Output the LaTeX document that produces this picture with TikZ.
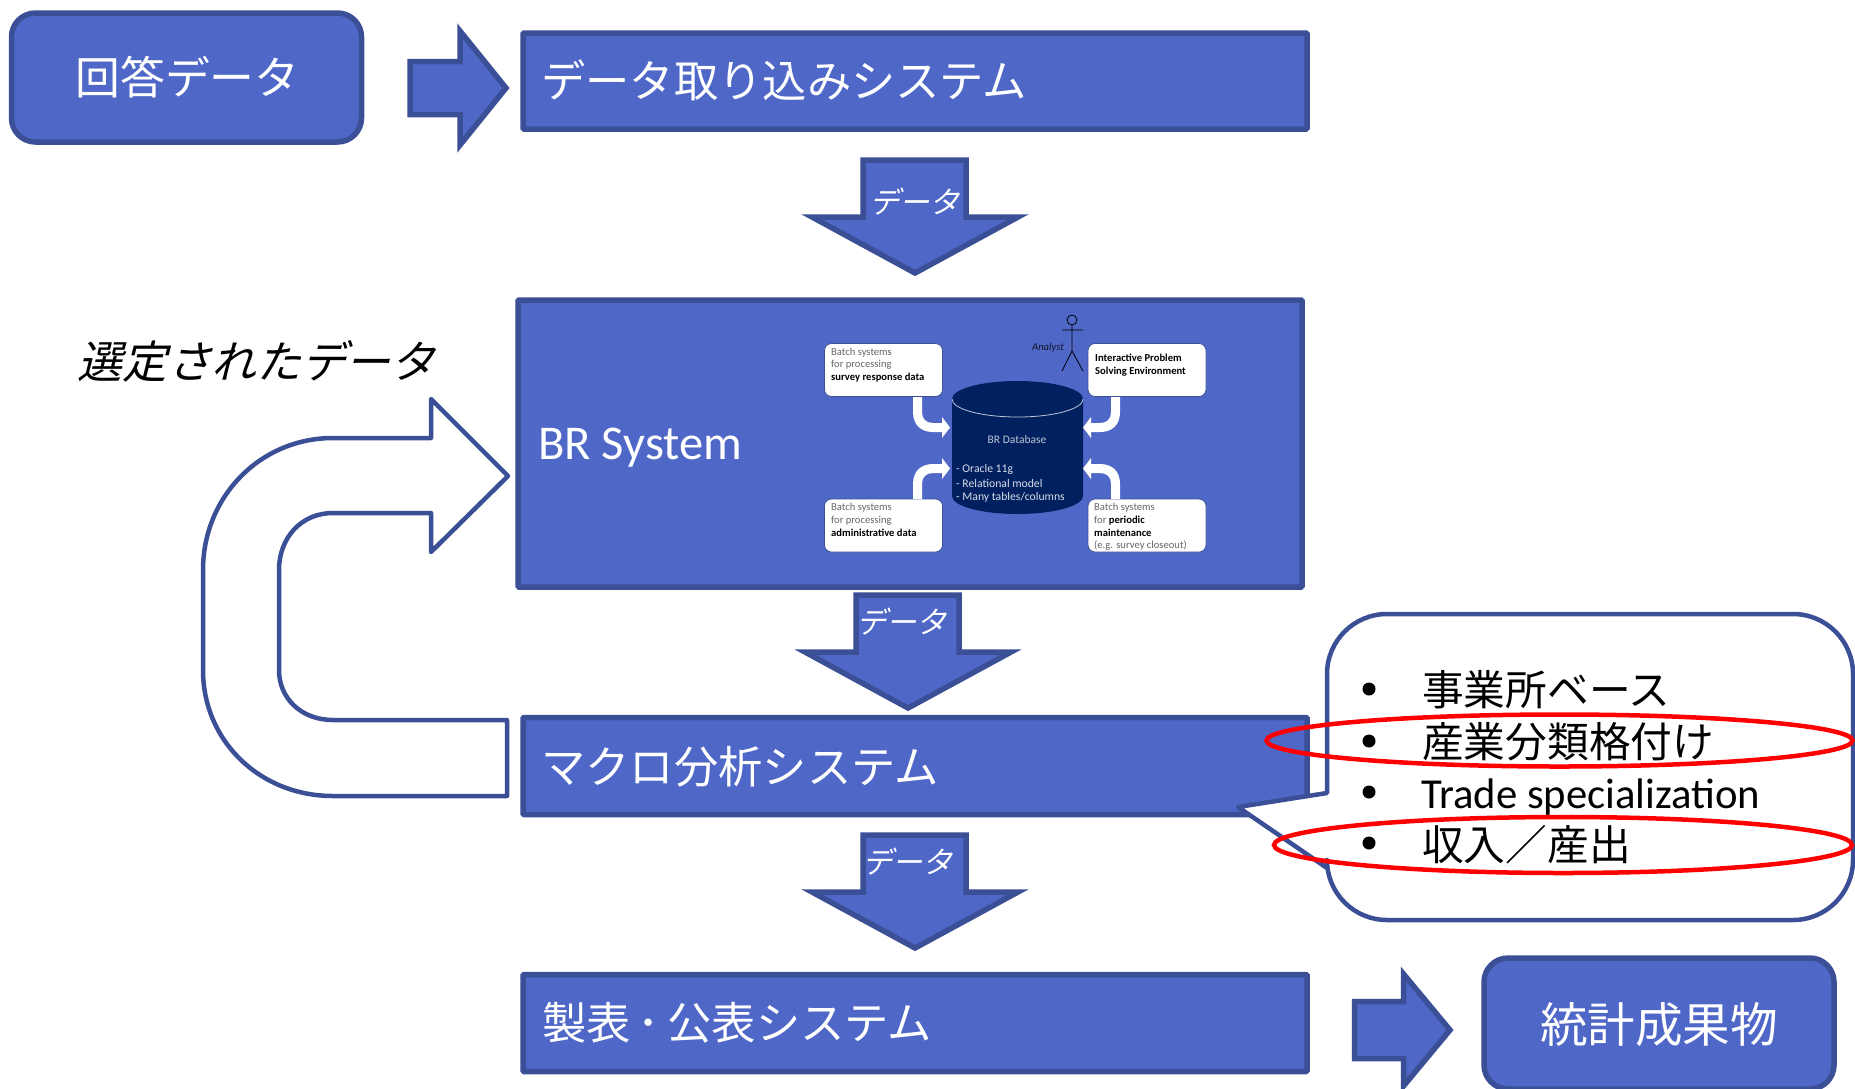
\documentclass[tikz,border=0pt]{standalone}
\usepackage{fontspec}
\setmainfont{Carlito}
\newfontfamily\jp{Noto Sans CJK JP}
\newfontfamily\jpi[FakeSlant=0.25]{Noto Sans CJK JP}
\definecolor{bfill}{HTML}{4F68C8}
\definecolor{bline}{HTML}{3B4F96}
\definecolor{dbnavy}{HTML}{002060}
\newcommand{\MiniArrow}{\path[fill=white] (913,397) -- (913,412) .. controls (913,425) and (921,432) .. (933,432) -- (942,432) -- (942,438) -- (950,427.5) -- (942,417) -- (942,423) -- (933,423) .. controls (926,423) and (922,419) .. (922,412) -- (922,397) -- cycle;}
\tikzset{
  sysbox/.style={draw=bline,fill=bfill,line width=5.5pt,inner sep=0pt,rounded corners=1pt},
  roundbox/.style={sysbox,rounded corners=24pt},
  blockarrow/.style={draw=bline,fill=bfill,line width=5.5pt,miter limit=12},
  jptext/.style={text=white,inner sep=0pt,font=\jp\fontsize{44.3}{50}\selectfont},
  arrowtext/.style={text=white,inner sep=0pt,font=\jpi\fontsize{30}{34}\selectfont},
  listtext/.style={text=black,inner sep=0pt,anchor=west,font=\jp\fontsize{41.7}{46}\selectfont},
  bullet/.style={circle,fill=black,minimum size=13pt,inner sep=0pt},
  redring/.style={draw=red,line width=4.5pt},
  minibox/.style={draw=bline,fill=white,line width=0.8pt,rounded corners=7pt,inner sep=0pt,minimum width=118pt,minimum height=53pt},
  minitext/.style={inner sep=0pt,anchor=west,text=black!60,font=\fontsize{10.6}{12.7}\selectfont},
  minibold/.style={minitext,text=black,font=\bfseries\fontsize{10.6}{12.7}\selectfont},
}
\begin{document}
\begin{tikzpicture}[x=1pt,y=-1pt]
\clip (0,0) rectangle (1855,1088);
% input box and first arrow
\node[roundbox,minimum width=350pt,minimum height=129pt] (answer) at (186.5,77.5) {};
\node[jptext,font=\jp\fontsize{44.8}{50}\selectfont] (answerT) at (187.5,77) {回答データ};
\draw[blockarrow] (410,61.5) -- (460,61.5) -- (460,31) -- (506,88) -- (460,145) -- (460,114.5) -- (410,114.5) -- cycle;
% system boxes
\node[sysbox,minimum width=784pt,minimum height=96pt] (ingest) at (915,81) {};
\node[jptext,anchor=west] (ingestT) at (541,80) {データ取り込みシステム};
\node[sysbox,minimum width=784pt,minimum height=287pt] (br) at (910,443.5) {};
\node[inner sep=0pt,anchor=west,text=white,font=\fontsize{48.5}{54}\selectfont] (brT) at (538,448) {BR System};
\node[sysbox,minimum width=784pt,minimum height=97pt] (macro) at (915,766) {};
\node[jptext,anchor=west] (macroT) at (541,767) {マクロ分析システム};
\node[sysbox,minimum width=784pt,minimum height=97pt] (publish) at (915,1023) {};
\node[jptext,anchor=west] (publishT) at (542,1023) {製表\kern7pt ･\kern7.5pt 公表システム};
% down arrows
\draw[blockarrow] (863,160) -- (966,160) -- (966,217) -- (1018,217) -- (915,273) -- (812,217) -- (863,217) -- cycle;
\node[arrowtext] (data1) at (914,202) {データ};
\draw[blockarrow] (856,595) -- (959,595) -- (959,652) -- (1011,652) -- (908,708) -- (805,652) -- (856,652) -- cycle;
\node[arrowtext] (data2) at (901,622) {データ};
\draw[blockarrow] (863,835) -- (966,835) -- (966,892) -- (1018,892) -- (915,948) -- (812,892) -- (863,892) -- cycle;
\node[arrowtext] (data3) at (907.5,862) {データ};
% U-turn arrow
\draw[draw=bline,fill=white,line width=4.5pt,line join=round]
  (507,796) -- (333,796) .. controls (260,796) and (203,741) .. (203,670) -- (203,570)
  .. controls (203,497) and (260,438) .. (333,438) -- (431,438) -- (431,399) -- (508,476) -- (431,552) -- (431,513) -- (333,513)
  .. controls (301,513) and (279,538) .. (279,570) -- (279,670) .. controls (279,698) and (301,720) .. (333,720) -- (507,720) -- cycle;
\node[inner sep=0pt,text=black,font=\jpi\fontsize{44.7}{50}\selectfont] (chosen) at (256.5,361) {選定されたデータ};
% output
\draw[blockarrow] (1354.5,1001.5) -- (1403.5,1001.5) -- (1403.5,974) -- (1450,1030) -- (1403.5,1086) -- (1403.5,1058.5) -- (1354.5,1058.5) -- cycle;
\node[roundbox,minimum width=350pt,minimum height=131pt] (result) at (1659,1023.5) {};
\node[jptext,font=\jp\fontsize{47.6}{54}\selectfont] (resultT) at (1659,1025) {統計成果物};
% embedded figure
\node[minibox] (m1) at (883.5,370) {};
\node[minibox] (m2) at (1147,370) {};
\node[minibox] (m3) at (883.5,525.5) {};
\node[minibox] (m4) at (1147,525.5) {};
\MiniArrow
\begin{scope}[shift={(2033,0)},xscale=-1]\MiniArrow\end{scope}
\begin{scope}[shift={(0,896)},yscale=-1]\MiniArrow\end{scope}
\begin{scope}[shift={(2033,896)},xscale=-1,yscale=-1]\MiniArrow\end{scope}
\path[fill=dbnavy] (952,399) -- (952,496) .. controls (952,506) and (981,514) .. (1017.5,514) .. controls (1054,514) and (1083,506) .. (1083,496) -- (1083,399) .. controls (1083,389) and (1054,381) .. (1017.5,381) .. controls (981,381) and (952,389) .. (952,399) -- cycle;
\draw[draw=white!75!dbnavy,line width=0.8pt] (952,399) .. controls (952,409) and (981,417) .. (1017.5,417) .. controls (1054,417) and (1083,409) .. (1083,399);
\node[inner sep=0pt,text=white!75!dbnavy,font=\fontsize{11.5}{13}\selectfont] (dbname) at (1017,440) {BR Database};
\node[inner sep=0pt,anchor=west,text=white!85!dbnavy,font=\fontsize{11.7}{13}\selectfont] (db1) at (956,469) {- Oracle 11g};
\node[inner sep=0pt,anchor=west,text=white!85!dbnavy,font=\fontsize{11.7}{13}\selectfont] (db2) at (956,483) {- Relational model};
\node[inner sep=0pt,anchor=west,text=white!85!dbnavy,font=\fontsize{11.7}{13}\selectfont] (db3) at (956,497) {- Many tables/columns};
\node[minitext] (a1) at (831,353) {Batch systems};
\node[minitext] (a2) at (831,365) {for processing};
\node[minibold] (a3) at (831,378) {survey response data};
\node[minibold] (b1) at (1095,358) {Interactive Problem};
\node[minibold] (b2) at (1095,372) {Solving Environment};
\node[minitext] (c1) at (831,508) {Batch systems};
\node[minitext] (c2) at (831,521) {for processing};
\node[minibold] (c3) at (831,533) {administrative data};
\node[minitext] (d1) at (1094,508) {Batch systems};
\node[minibold,text=black!60] (d2) at (1094,521) {\mdseries for \bfseries\textcolor{black}{periodic}};
\node[minibold] (d3) at (1094,533) {maintenance};
\node[minitext] (d4) at (1094,546) {(e.g. survey closeout)};
\node[draw=black,line width=0.8pt,circle,minimum size=10pt,inner sep=0pt] (head) at (1072,320) {};
\coordinate (hip) at (1072,351);
\coordinate (armL) at (1062,330);
\coordinate (armR) at (1083,330);
\coordinate (legL) at (1062,371);
\coordinate (legR) at (1083,371);
\draw[line width=0.8pt] (head.south) -- (hip) -- (legL) (hip) -- (legR) (armL) -- (armR);
\node[inner sep=0pt,text=black!75!bline,font=\fontsize{10.6}{12}\selectfont\itshape] (analyst) at (1048,348) {Analyst};
% callout
\draw[draw=bline,fill=white,line width=4.5pt,line join=round] (1327,793) -- (1327,674) arc[start angle=180,end angle=270,radius=60] -- (1793,614) arc[start angle=270,end angle=360,radius=60] -- (1853,860) arc[start angle=0,end angle=90,radius=60] -- (1387,920) arc[start angle=90,end angle=180,radius=60] -- (1327,868) -- (1238,807) -- cycle;
\node[bullet] (p1) at (1369,689) {};
\node[bullet] (p2) at (1369,741) {};
\node[bullet] (p3) at (1369,792) {};
\node[bullet] (p4) at (1369,843) {};
\node[listtext] (t1) at (1422,690) {事業所ベース};
\node[listtext] (t2) at (1422,742) {産業分類格付け};
\node[listtext,font=\fontsize{42.7}{48}\selectfont] (t3) at (1421,797) {Trade specialization};
\node[listtext] (t4) at (1422,845) {収入／産出};
\draw[redring] (1559.5,740.5) ellipse [x radius=293,y radius=26];
\draw[redring] (1563,845) ellipse [x radius=289,y radius=28];
\end{tikzpicture}
\end{document}
